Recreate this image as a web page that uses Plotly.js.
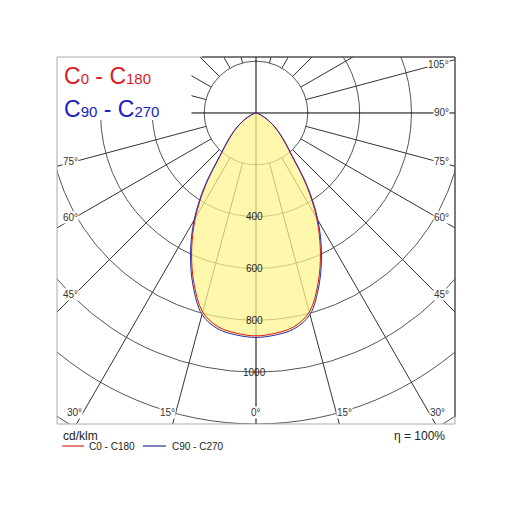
<!DOCTYPE html>
<html>
<head>
<meta charset="utf-8">
<script src="https://cdn.plot.ly/plotly-3.0.1.min.js"></script>
<style>
  html, body {margin:0; padding:0; background:#fff;}
  #plot_1 {width:512px; height:512px;}
</style>
</head>
<body>
<div id="plot_1"></div>
<script>
// gamma angle from nadir (deg) and intensity in cd/klm
const gamma_deg = [0, 5, 10, 15, 20, 25, 30, 35, 40, 45, 50, 55, 60, 65, 70, 75, 80, 85, 90];
const c0_c180   = [860, 853, 838, 795, 700, 588, 468, 338, 214, 153, 112, 78, 49, 27, 13, 5, 1, 0, 0];
const c90_c270  = [866, 860, 846, 805, 710, 598, 478, 346, 220, 158, 115, 80, 50, 28, 14, 6, 2, 0, 0];

// grid
const ring_values = [200, 400, 600, 800, 1000, 1200, 1400, 1600];
const ring_labels = [400, 600, 800, 1000];
const spoke_deg = [0, 15, 30, 45, 60, 75, 90, 105, 120, 135, 150, 165, 180, 195, 210, 225, 240, 255, 270, 285, 300, 315, 330, 345];
const right_labels = [45, 60, 75, 90, 105];
const left_labels = [45, 60, 75];
const bottom_labels = [0, 15, 30];

const X_MAX = 768, Y_MIN = -1200, Y_MAX = 216;

function rad(d){ return d * Math.PI / 180 }

// build a closed polar curve (C0 right side, C180 mirrored on the left)
function polarCurve(vals){
  let xs = [], ys = [];
  for (let i = vals.length - 1; i >= 0; i--){ // left half, from 90 down to 0
    xs.push(-vals[i] * Math.sin(rad(gamma_deg[i])));
    ys.push(-vals[i] * Math.cos(rad(gamma_deg[i])));
  }
  for (let i = 1; i < vals.length; i++){ // right half
    xs.push(vals[i] * Math.sin(rad(gamma_deg[i])));
    ys.push(-vals[i] * Math.cos(rad(gamma_deg[i])));
  }
  return [xs, ys]
}

let outer = polarCurve(c90_c270);
let inner = polarCurve(c0_c180);

var traces = [
  {x: outer[0], y: outer[1], mode: 'lines', fill: 'toself',
   fillcolor: 'rgba(255,245,140,0.72)', line: {width: 0, shape: 'spline', smoothing: 1}, hoverinfo: 'skip'},
  {x: inner[0], y: inner[1], mode: 'lines', line: {color: '#d81818', width: 1, shape: 'spline', smoothing: 1}},
  {x: outer[0], y: outer[1], mode: 'lines', line: {color: '#2a2ab8', width: 1, shape: 'spline', smoothing: 1}}
];

let shapes = [];
// rings
for (let i = 0; i < ring_values.length; i++){
  let r = ring_values[i];
  shapes.push({type: 'circle', xref: 'x', yref: 'y', x0: -r, x1: r, y0: -r, y1: r,
               line: {color: '#555', width: 1}, layer: 'below'});
}
// spokes, the main axes go through the centre
for (let i = 0; i < spoke_deg.length; i++){
  let a = spoke_deg[i];
  let r0 = (a % 90 === 0) ? 0 : 200;
  let r1 = 2200;
  shapes.push({type: 'line', xref: 'x', yref: 'y',
    x0: r0 * Math.sin(rad(a)), y0: -r0 * Math.cos(rad(a)),
    x1: r1 * Math.sin(rad(a)), y1: -r1 * Math.cos(rad(a)),
    line: {color: (a % 90 === 0) ? '#000' : '#333', width: 1}, layer: 'below'});
}
// white box behind the top-left legend
shapes.push({type: 'rect', xref: 'x', yref: 'y', x0: -X_MAX - 10, x1: -249, y0: Y_MAX + 10, y1: -27,
             fillcolor: '#fff', line: {width: 0}, layer: 'below'});
// frame
shapes.push({type: 'rect', xref: 'paper', yref: 'paper', x0: 0, x1: 1, y0: 0, y1: 1,
             line: {color: '#aaa', width: 1}});
shapes.push({type: 'line', xref: 'paper', yref: 'paper', x0: 0.364, x1: 1, y0: 1, y1: 1,
             line: {color: '#222', width: 1}});
shapes.push({type: 'line', xref: 'paper', yref: 'paper', x0: 1, x1: 1, y0: 0.02, y1: 1,
             line: {color: '#222', width: 1}});
// bottom legend lines
shapes.push({type: 'line', xref: 'paper', yref: 'paper', x0: 0.013, x1: 0.068, y0: -0.06, y1: -0.06,
             line: {color: '#cc0000', width: 1}});
shapes.push({type: 'line', xref: 'paper', yref: 'paper', x0: 0.216, x1: 0.274, y0: -0.06, y1: -0.06,
             line: {color: '#000080', width: 1}});

const lblFont = {family: 'Liberation Sans, Arial, sans-serif', size: 10, color: '#333'};
let annotations = [];
for (let i = 0; i < ring_labels.length; i++){
  annotations.push({x: 0, y: -ring_labels[i], xref: 'x', yref: 'y', text: String(ring_labels[i]),
    showarrow: false, font: {family: lblFont.family, size: 10, color: '#222'}, xshift: -2});
}
for (let i = 0; i < right_labels.length; i++){
  let a = right_labels[i];
  annotations.push({x: 747, y: -700 / Math.tan(rad(a)), xref: 'x', yref: 'y', text: a + '°',
    showarrow: false, xanchor: 'right', font: lblFont, bgcolor: '#fff', borderpad: 0});
}
for (let i = 0; i < left_labels.length; i++){
  let a = left_labels[i];
  annotations.push({x: -747, y: -700 / Math.tan(rad(a)), xref: 'x', yref: 'y', text: a + '°',
    showarrow: false, xanchor: 'left', font: lblFont, bgcolor: '#fff', borderpad: 0});
}
for (let i = 0; i < bottom_labels.length; i++){
  let a = bottom_labels[i];
  let xx = 1156 * Math.tan(rad(a));
  if (a === 0){
    annotations.push({x: 0, y: -1156, xref: 'x', yref: 'y', text: '0°', showarrow: false,
      font: lblFont, bgcolor: '#fff', borderpad: 0});
  } else {
    annotations.push({x: xx, y: -1156, xref: 'x', yref: 'y', text: a + '°', showarrow: false,
      xanchor: 'left', font: lblFont, bgcolor: '#fff', borderpad: 0});
    annotations.push({x: -xx, y: -1156, xref: 'x', yref: 'y', text: a + '°', showarrow: false,
      xanchor: 'right', font: lblFont, bgcolor: '#fff', borderpad: 0});
  }
}
// big legend top-left
annotations.push({xref: 'paper', yref: 'paper', x: 0.012, y: 0.947, xanchor: 'left', yanchor: 'middle',
  showarrow: false, font: {family: 'Liberation Sans, Arial', size: 23, color: '#dc1c1c'},
  text: "C<span style='font-size:15px'>0</span> - C<span style='font-size:15px'>180</span>"});
annotations.push({xref: 'paper', yref: 'paper', x: 0.012, y: 0.857, xanchor: 'left', yanchor: 'middle',
  showarrow: false, font: {family: 'Liberation Sans, Arial', size: 23, color: '#2020c0'},
  text: "C<span style='font-size:15px'>90</span> - C<span style='font-size:15px'>270</span>"});
// bottom texts
annotations.push({xref: 'paper', yref: 'paper', x: 0.01, y: -0.033, xanchor: 'left', yanchor: 'middle',
  showarrow: false, text: 'cd/klm', font: {family: 'Liberation Sans, Arial', size: 12, color: '#222'}});
annotations.push({xref: 'paper', yref: 'paper', x: 0.98, y: -0.033, xanchor: 'right', yanchor: 'middle',
  showarrow: false, text: 'η = 100%', font: {family: 'Liberation Sans, Arial', size: 12, color: '#222'}});
annotations.push({xref: 'paper', yref: 'paper', x: 0.075, y: -0.06, xanchor: 'left', yanchor: 'middle',
  showarrow: false, text: 'C0 - C180', font: {family: 'Liberation Sans, Arial', size: 10, color: '#222'}});
annotations.push({xref: 'paper', yref: 'paper', x: 0.284, y: -0.06, xanchor: 'left', yanchor: 'middle',
  showarrow: false, text: 'C90 - C270', font: {family: 'Liberation Sans, Arial', size: 10, color: '#222'}});

var layout = {
  width: 512, height: 512,
  margin: {l: 57, r: 57, t: 57, b: 88},
  paper_bgcolor: '#fff', plot_bgcolor: '#fff',
  showlegend: false,
  xaxis: {range: [-X_MAX, X_MAX], showgrid: false, zeroline: false, showticklabels: false, ticks: ''},
  yaxis: {range: [Y_MIN, Y_MAX], showgrid: false, zeroline: false, showticklabels: false, ticks: ''},
  shapes: shapes,
  annotations: annotations
};

Plotly.newPlot('plot_1', traces, layout, {staticPlot: true, displayModeBar: false});
</script>
</body>
</html>
